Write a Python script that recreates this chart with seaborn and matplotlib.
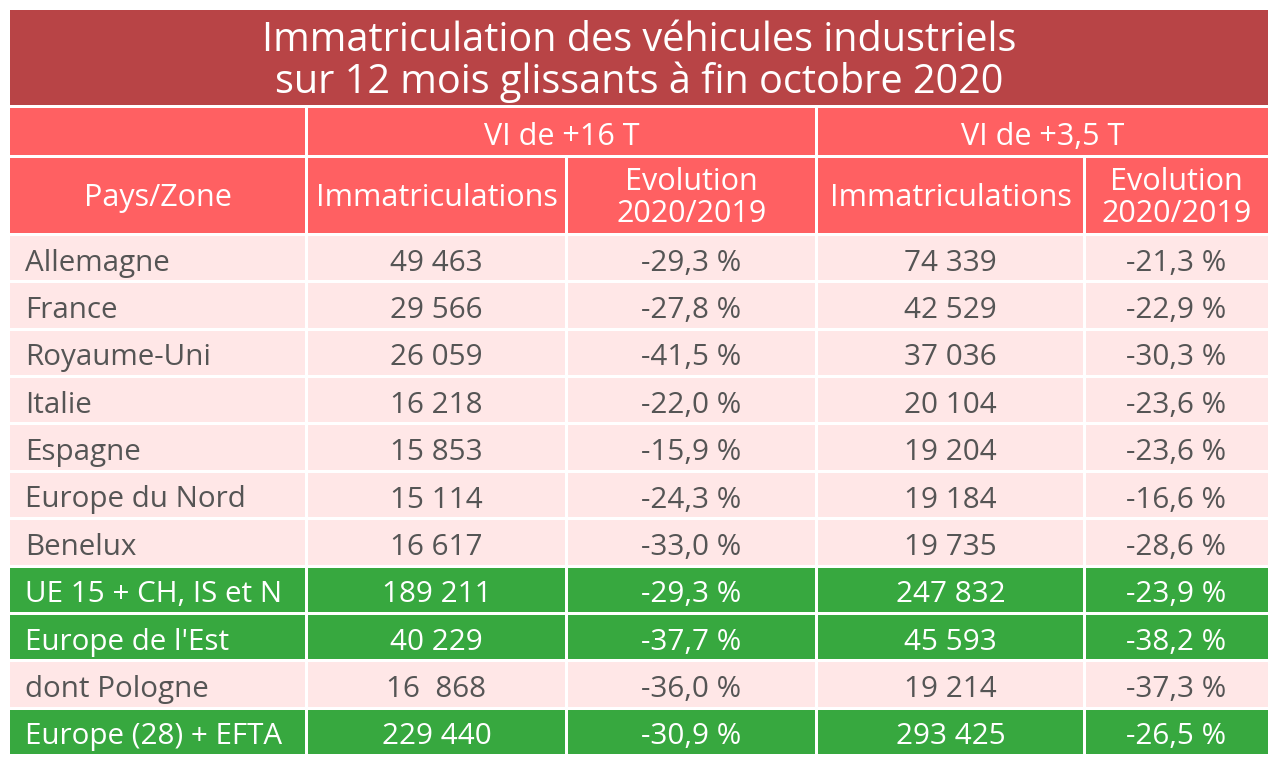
import matplotlib.pyplot as plt
import seaborn as sns
from matplotlib.patches import Rectangle

# Table content
title = "Immatriculation des véhicules industriels\nsur 12 mois glissants à fin octobre 2020"
groups = ["VI de +16 T", "VI de +3,5 T"]
col_labels = ["Pays/Zone", "Immatriculations", "Evolution\n2020/2019", "Immatriculations", "Evolution\n2020/2019"]

zones = ["Allemagne", "France", "Royaume-Uni", "Italie", "Espagne", "Europe du Nord",
         "Benelux", "UE 15 + CH, IS et N", "Europe de l'Est", "dont Pologne", "Europe (28) + EFTA"]
immat_16t = ["49 463", "29 566", "26 059", "16 218", "15 853", "15 114",
             "16 617", "189 211", "40 229", "16  868", "229 440"]
evol_16t = ["-29,3 %", "-27,8 %", "-41,5 %", "-22,0 %", "-15,9 %", "-24,3 %",
            "-33,0 %", "-29,3 %", "-37,7 %", "-36,0 %", "-30,9 %"]
immat_35t = ["74 339", "42 529", "37 036", "20 104", "19 204", "19 184",
             "19 735", "247 832", "45 593", "19 214", "293 425"]
evol_35t = ["-21,3 %", "-22,9 %", "-30,3 %", "-23,6 %", "-23,6 %", "-16,6 %",
            "-28,6 %", "-23,9 %", "-38,2 %", "-37,3 %", "-26,5 %"]
totals = [False, False, False, False, False, False, False, True, True, False, True]

sns.set_theme(style="white")
plt.rcParams['font.family'] = ['Open Sans', 'DejaVu Sans']

TITLE_BG = "#B84446"
HEAD_BG = "#FF6062"
LIGHT_BG = "#FFE7E7"
GREEN_BG = "#37A83F"
DARK_TXT = "#555555"

fig = plt.figure(figsize=(12.8, 7.7), dpi=100)
ax = fig.add_axes([0, 0, 1, 1])
ax.set_xlim(0, 1280)
ax.set_ylim(770, 0)
ax.axis("off")

col_edges = [10, 306.5, 566.5, 816.5, 1084.5, 1268]
gap = 1.5


def cell(x0, x1, y0, y1, color):
    ax.add_patch(Rectangle((x0 + gap, y0 + gap), x1 - x0 - 2 * gap, y1 - y0 - 2 * gap,
                           facecolor=color, edgecolor="none"))


# title band
cell(col_edges[0] - gap, col_edges[-1] + gap, 10 - gap, 106.5, TITLE_BG)
ax.text(639, 62, title, ha="center", va="center", color="white", fontsize=28.5,
        linespacing=1.02)

# group header
h1_top, h1_bot = 106.5, 156
cell(col_edges[0] - gap, col_edges[1], h1_top, h1_bot, HEAD_BG)
cell(col_edges[1], col_edges[3], h1_top, h1_bot, HEAD_BG)
cell(col_edges[3], col_edges[5] + gap, h1_top, h1_bot, HEAD_BG)
ax.text((col_edges[1] + col_edges[3]) / 2, 137, groups[0], ha="center", va="center",
        color="white", fontsize=22)
ax.text((col_edges[3] + col_edges[5]) / 2, 137, groups[1], ha="center", va="center",
        color="white", fontsize=22)

# column header
h2_top, h2_bot = 156, 234.5
for j, lab in enumerate(col_labels):
    x0 = col_edges[j] - (gap if j == 0 else 0)
    x1 = col_edges[j + 1] + (gap if j == 4 else 0)
    cell(x0, x1, h2_top, h2_bot, HEAD_BG)
    ax.text((col_edges[j] + col_edges[j + 1]) / 2, 198, lab, ha="center", va="center",
            color="white", fontsize=22, linespacing=1.08)

# data rows
row_top = 234.5
row_h = (755.5 - row_top) / len(zones)
columns = [zones, immat_16t, evol_16t, immat_35t, evol_35t]
for i in range(len(zones)):
    y0 = row_top + i * row_h
    y1 = y0 + row_h
    bg = GREEN_BG if totals[i] else LIGHT_BG
    fg = "white" if totals[i] else DARK_TXT
    yc = (y0 + y1) / 2 + 5
    for j, col in enumerate(columns):
        x0 = col_edges[j] - (gap if j == 0 else 0)
        x1 = col_edges[j + 1] + (gap if j == 4 else 0)
        cell(x0, x1, y0, y1, bg)
        if j == 0:
            ax.text(25, yc, col[i], ha="left", va="center", color=fg, fontsize=21.3)
        else:
            ax.text((col_edges[j] + col_edges[j + 1]) / 2, yc, col[i], ha="center",
                    va="center", color=fg, fontsize=21.3)

plt.savefig("out.png", dpi=100, facecolor="white")
